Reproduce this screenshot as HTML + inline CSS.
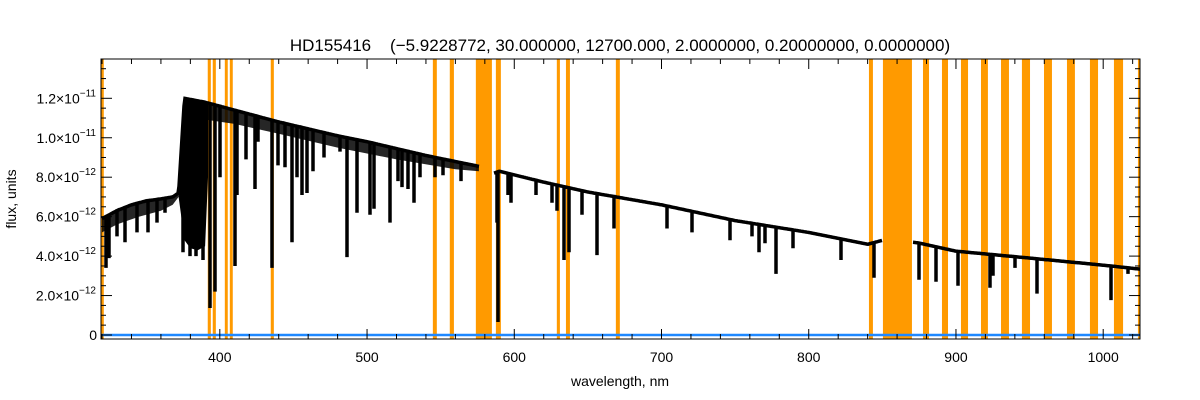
<!DOCTYPE html>
<html><head><meta charset="utf-8"><style>
html,body{margin:0;padding:0;background:#fff;}
svg{display:block;font-family:"Liberation Sans",sans-serif;}
</style></head><body>
<svg id="chart" width="1200" height="400" viewBox="0 0 1200 400">
<text x="620" y="51" font-size="17" text-anchor="middle" xml:space="preserve">HD155416    (−5.9228772, 30.000000, 12700.000, 2.0000000, 0.20000000, 0.0000000)</text>
<text x="0" y="0" font-size="14" text-anchor="middle" transform="translate(16,199) rotate(-90)">flux, units</text>
<text x="620" y="386" font-size="14" text-anchor="middle">wavelength, nm</text>
<g id="bands"></g><g id="spec"></g><g id="axes"></g>
</svg>
<script>
const xMin=319.3, xMax=1025, yMin=0, yMax=14;
const bandStart=[318,391.8,395.2,403.4,406.8,434.6,544.7,556.2,573.9,587.5,628.9,635.1,669.0,840.9,850.4,877.6,890.5,903.4,917.0,930.6,944.8,959.8,975.4,991.0,1007.3,1023.6];
const bandEnd=[321.2,393.9,397.3,405.4,408.8,436.7,547.4,559.0,584.8,590.9,631.0,637.8,671.7,843.6,870.1,881.7,894.6,908.2,921.7,936.0,950.3,965.2,980.8,996.5,1013.5,1026];
const seg1Wl=[320,330,340,350,360,368,372,376,390,410,440,480,500,540,576];
const seg1Flux=[5.9,6.3,6.6,6.8,6.9,7.0,7.2,12.0,11.8,11.4,10.8,10.1,9.8,9.1,8.55];
const seg2Wl=[586,590,620,650,700,750,800,840,850];
const seg2Flux=[8.2,8.3,7.75,7.25,6.6,5.8,5.2,4.6,4.8];
const seg3Wl=[871,875,900,950,1000,1025];
const seg3Flux=[4.7,4.66,4.25,3.9,3.54,3.34];
const fillWl=[372,376,380,385,390,392];
const fillLow=[7.0,4.8,4.4,4.3,4.5,8.0];
const fill2Wl=[320,330,345,360,368,372];
const fill2Low=[5.2,5.6,6.0,6.3,6.6,7.0];
const fill3Wl=[392,410,440,480,520,560,576];
const fill3Low=[10.9,10.7,10.2,9.5,8.9,8.4,8.3];
const lineWl=[322.5,325,330,335.5,343.6,351,357,362.6,375,380,384,388.5,393.3,396.6,400,410,412,418,424,426,435.3,439.4,444,448.9,452.3,455.7,459,463,471,481.5,486.3,493,502,505,515.5,521,524,527.7,531.8,536,546,551.5,564,588,589,595.6,598,615,625.5,629,634,637,646,656.1,667.7,704,721,746.5,761.4,766,770,777.7,789,822,844,850.5,875,886.4,901.4,923,925,940,955,1005.3,1016.8];
const lineMin=[3.4,3.9,5.0,4.7,5.2,5.2,5.7,6.2,4.2,4.0,4.0,3.8,1.37,2.2,8.0,3.5,7.1,8.9,7.4,9.8,3.4,8.6,8.5,4.7,8.0,7.1,7.2,8.3,9.0,9.3,3.95,6.2,6.1,6.4,5.7,7.8,7.5,7.4,6.7,8.0,8.0,8.1,7.8,5.7,0.66,7.1,6.7,7.1,6.7,6.3,3.8,4.2,6.1,4.05,5.4,5.4,5.2,4.8,5.0,4.2,4.65,3.1,4.4,3.8,2.9,3.4,2.8,2.7,2.5,2.4,3.0,3.4,2.1,1.77,3.1];
const xTicks=[400,500,600,700,800,900,1000];
const yTickVals=[0,2,4,6,8,10,12];
const yTickMant=["0","2.0","4.0","6.0","8.0","1.0","1.2"];
const yTickExp=["","−12","−12","−12","−12","−11","−11"];

const L=101,R=1140,T=59,B=339;
const NS="http://www.w3.org/2000/svg";
function X(w){return L+(w-xMin)/(xMax-xMin)*(R-L);}
function Y(v){return 335-(v-yMin)*(335-98.3)/12;}
function mk(tag,attrs,parent){const e=document.createElementNS(NS,tag);for(const k in attrs)e.setAttribute(k,attrs[k]);parent.appendChild(e);return e;}
function interp(ws,fs,w){for(let i=0;i<ws.length-1;i++){if(w>=ws[i]&&w<=ws[i+1]){const t=(w-ws[i])/(ws[i+1]-ws[i]);return fs[i]+t*(fs[i+1]-fs[i]);}}return w<ws[0]?fs[0]:fs[fs.length-1];}

const gb=document.getElementById('bands');
for(let i=0;i<bandStart.length;i++){
  const x1=Math.max(L,X(bandStart[i])),x2=Math.min(R,X(bandEnd[i]));
  const r=mk('rect',{x:x1,y:T,width:Math.max(1,x2-x1),height:B-T,fill:'#ff9a00'},gb);
  
  
}
const gs=document.getElementById('spec');
const bl=mk('line',{x1:L,x2:R,y1:Y(0),y2:Y(0),stroke:'#1e88ff','stroke-width':2.5},gs);


function fillBand(ws,lows,name,op){
  let fp='';
  for(let i=0;i<ws.length;i++)fp+=(i?'L':'M')+X(ws[i]).toFixed(1)+' '+Y(interp(seg1Wl,seg1Flux,ws[i])).toFixed(1);
  for(let i=ws.length-1;i>=0;i--)fp+='L'+X(ws[i]).toFixed(1)+' '+Y(lows[i]).toFixed(1);
  const fe=mk('path',{d:fp+'Z',fill:'#000','fill-opacity':op},gs);
  
  
}
fillBand(fillWl,fillLow,'balmer-blend',1);
fillBand(fill2Wl,fill2Low,'uv-line-blend',0.85);
fillBand(fill3Wl,fill3Low,'blue-line-blend',0.85);
[[seg1Wl,seg1Flux],[seg2Wl,seg2Flux],[seg3Wl,seg3Flux]].forEach(([ws,fs])=>{
  const x0=Math.max(L,Math.round(X(ws[0]))),x1=Math.min(R,Math.round(X(ws[ws.length-1])));
  let d='';
  for(let px=x0;px<=x1;px++){
    const w=xMin+(px-L)/(R-L)*(xMax-xMin);
    const c=interp(ws,fs,w),yc=Y(c);
    d+=(d?'L':'M')+px+' '+yc.toFixed(1);
    for(let j=0;j<lineWl.length;j++){
      if(Math.round(X(lineWl[j]))===px){d+='L'+px+' '+Y(lineMin[j]).toFixed(1)+'L'+px+' '+yc.toFixed(1);}
    }
  }
  const p=mk('path',{d:d,fill:'none',stroke:'#000','stroke-width':3.5,'stroke-linejoin':'miter'},gs);
  
  
});
const ga=document.getElementById('axes');
const fr=mk('rect',{x:L,y:T,width:R-L,height:B-T,fill:'none',stroke:'#000','stroke-width':1},ga);


for(let w=320;w<=1025;w+=20){
  const x=X(w),len=(w%100===0)?10:5;
  mk('line',{x1:x,x2:x,y1:B,y2:B-len,stroke:'#000'},ga);
  mk('line',{x1:x,x2:x,y1:T,y2:T+len,stroke:'#000'},ga);
}
for(let i=0;i<xTicks.length;i++){
  const t=mk('text',{x:X(xTicks[i]),y:B+23,'font-size':14,'text-anchor':'middle'},ga);
  t.textContent=xTicks[i];
  
  
}
for(let v=0;v<=14;v+=0.5){
  const y=Y(v),len=(Math.abs(v%2)<1e-6)?11:5;
  if(y<T)continue;
  mk('line',{x1:L,x2:L+len,y1:y,y2:y,stroke:'#000'},ga);
  mk('line',{x1:R,x2:R-len,y1:y,y2:y,stroke:'#000'},ga);
}
for(let i=0;i<yTickVals.length;i++){
  const y=Y(yTickVals[i]);
  const t=mk('text',{x:yTickExp[i]?96:97,y:y+5,'font-size':14,'text-anchor':'end'},ga);
  
  
  if(yTickExp[i]){
    const a=mk('tspan',{},t);a.textContent=yTickMant[i]+'×10';
    const b=mk('tspan',{dy:-7,'font-size':10},t);b.textContent=yTickExp[i];
  } else t.textContent=yTickMant[i];
}
</script>
</body></html>
